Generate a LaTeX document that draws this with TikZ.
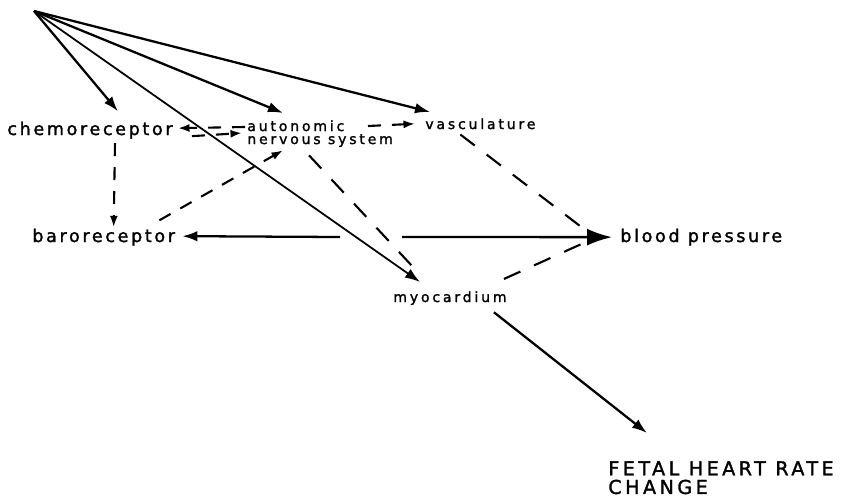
\documentclass[tikz,border=0pt]{standalone}
\usepackage{fontspec}
\newfontfamily\letterBig[LetterSpace=15,FakeBold=1.6]{DejaVu Sans}
\newfontfamily\letterSmall[LetterSpace=20,FakeBold=1.6]{DejaVu Sans}
\newfontfamily\letterCaps[LetterSpace=18,FakeBold=1.6]{DejaVu Sans}
\usepackage{tikz}
\usetikzlibrary{arrows.meta,calc}
\tikzset{%
  bigLabel/.style={%
    inner sep=0pt,
    anchor=base west,
    font=\letterBig\fontsize{10pt}{11pt}\selectfont
  },
  smallLabel/.style={%
    inner sep=0pt,
    align=left,
    font=\letterSmall\fontsize{8pt}{7.4pt}\selectfont
  },
  capsLabel/.style={%
    inner sep=0pt,
    anchor=north west,
    align=left,
    font=\letterCaps\fontsize{10.9pt}{10.6pt}\selectfont
  },
  effectLine/.style={%
    -{Latex[length=3mm,width=2.1mm]},
    line width=1.3pt,
    color=black
  },
  bigArrow/.style={%
    -{Latex[length=5mm,width=3.4mm]},
    line width=1.3pt
  },
  reflexLine/.style={%
    -{Latex[length=2.3mm,width=1.6mm]},
    line width=1.2pt,
    dash pattern=on 2.6mm off 2.2mm
  },
  longDash/.style={%
    line width=1.2pt,
    dash pattern=on 3.6mm off 3mm
  }
}

\begin{document}
\begin{tikzpicture}[x=0.2mm,y=-0.2mm]
  \useasboundingbox (0,0) rectangle (841,501);

  % labels
  \node[bigLabel] (chemo) at (7,135) {chemoreceptor};
  \node[bigLabel] (baro) at (32,242) {baroreceptor};
  \node[bigLabel] (bp) at (620,242) {blood pressure};
  \node[smallLabel,anchor=north west] (ans) at (247,120) {autonomic\\nervous system};
  \node[smallLabel,anchor=base west] (vasc) at (425,129) {vasculature};
  \node[smallLabel,anchor=base west] (myo) at (393,302) {myocardium};
  \node[capsLabel] (fhr) at (608,461) {FETAL HEART RATE\\CHANGE};

  \coordinate (src) at (34,11);
  \coordinate (midL) at (340,237);
  \coordinate (midR) at (402,237);

  % direct effects from the top corner
  \draw[effectLine] (src) -- ($(chemo.north)+(28,-10)$);
  \draw[effectLine] (src) -- ($(ans.north west)+(36,-7)$);
  \draw[effectLine] (src) -- ($(vasc.north west)+(5,-6)$);
  \draw[effectLine,line width=1pt] (src) -- ($(myo.north west)+(27,-9)$);

  % reflex loops
  \draw[reflexLine] ($(ans.north west)+(-2,7)$) -- ($(chemo.east)+(5,-2)$);
  \draw[reflexLine] ($(chemo.east)+(19,6)$) -- ($(ans.north west)+(-5,13)$);
  \draw[reflexLine] ($(ans.north west)+(121,6)$) -- ($(vasc.west)+(-10,0)$);
  \draw[reflexLine] ($(chemo.south)+(25,4)$) -- ($(baro.north)+(10,-1)$);
  \draw[reflexLine] ($(baro.north east)+(-16,-8)$) -- ($(ans.south west)+(36,3)$);
  \draw[longDash] ($(ans.south west)+(62,8)$) -- ($(myo.north west)+(20,-24)$);
  \draw[longDash] ($(vasc.south)+(-20,5)$) -- ($(bp.west)+(-28,-2)$);
  \draw[longDash] ($(myo.north east)+(-3,-12)$) -- ($(bp.west)+(-30,3)$);

  % pressure line
  \draw[effectLine] (midL) -- ($(baro.east)+(7,-1)$);
  \draw[bigArrow] (midR) -- ($(bp.west)+(-8,0)$);

  \draw[effectLine] ($(myo.south east)+(-13,7)$) -- ($(fhr.north west)+(39,-28)$);
\end{tikzpicture}
\end{document}
